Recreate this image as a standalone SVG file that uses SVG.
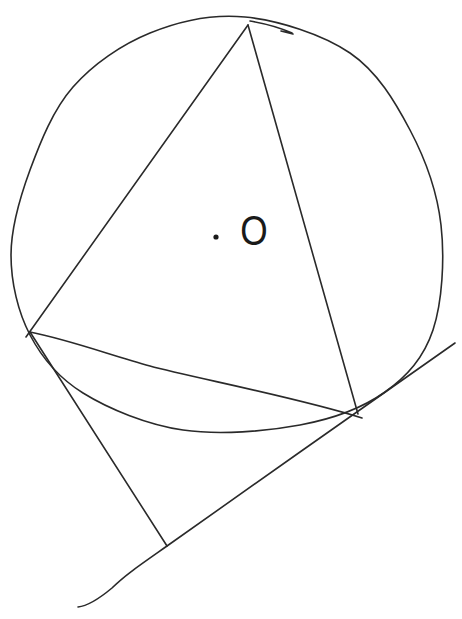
<svg xmlns="http://www.w3.org/2000/svg" width="462" height="619" viewBox="0 0 462 619">
<style>
.ln{fill:none;stroke:#2a2a2a;stroke-width:1.6;stroke-linecap:round;stroke-linejoin:round}
.lbl{font-family:"Liberation Sans",Arial,sans-serif;font-size:43px;fill:#1a1a1a}
</style>
<rect width="462" height="619" fill="#ffffff"/>
<g id="circle">
<path class="ln" d="M245,17 C278.3,20.3 322.5,34.2 350,53 C377.5,71.8 394.8,101.3 410,130 C425.2,158.7 437.2,191.7 441,225 C444.8,258.3 442.3,302.2 433,330 C423.7,357.8 407.2,376.2 385,392 C362.8,407.8 333.7,418.7 300,425 C266.3,431.3 219.2,435.3 183,430 C146.8,424.7 108.5,408.8 83,393 C57.5,377.2 42,358 30,335 C18,312 11,282.5 11,255 C11,227.5 19.7,198 30,170 C40.3,142 53,109.8 73,87 C93,64.2 121.3,44.7 150,33 C178.7,21.3 211.7,13.7 245,17"/>
<path class="ln" d="M250,21 Q274,25 292,33 M281,31 L293,34"/>
</g>
<g id="center">
<circle cx="216" cy="237" r="2.6" fill="#1a1a1a"/>
<text class="lbl" x="0" y="0" text-anchor="middle" transform="translate(254,245) scale(0.82,1)">O</text>
</g>
<g id="connectors">
<path id="AB" class="ln" d="M248,25 L26,337"/>
<path id="AC" class="ln" d="M248,25 L358,414"/>
<path id="BC" class="ln" d="M30,332 C70,340 110,355 150,366 S300,398 362,418"/>
<path id="tangent" class="ln" d="M455,343 L300,452 L167,546 C140,565 125,575 112,588 C100,598 88,606 78,607"/>
<path id="perp" class="ln" d="M30,332 L167,546"/>
</g>
</svg>
